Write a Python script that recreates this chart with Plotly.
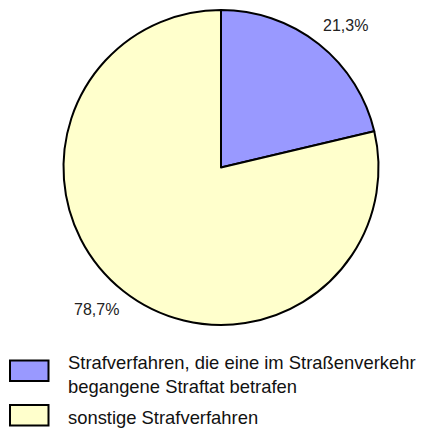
import math
import plotly.graph_objects as go

labels = ["Strafverfahren, die eine im Straßenverkehr<br>begangene Straftat betrafen", "sonstige Strafverfahren"]
values = [21.3, 78.7]
colors = ["#9999FF", "#FFFFCC"]

W, H = 422, 432
CX, CY, R = 221, 167.5, 157.5
FONT = "Liberation Sans, Arial, sans-serif"

def px(x):
    return x / W

def py(y):
    return 1 - y / H

fig = go.Figure(go.Pie(
    labels=labels, values=values, sort=False, direction="clockwise", rotation=0,
    marker=dict(colors=colors, line=dict(color="black", width=2)),
    textinfo="none", hoverinfo="label+percent", showlegend=False,
    domain=dict(x=[px(CX - R), px(CX + R)], y=[py(CY + R), py(CY - R)]),
))

# percentage labels: nearest corner of the label sits just outside the slice mid-angle
total = sum(values)
cum = 0
annotations = []
for v in values:
    mid = (cum + v / 2) / total * 2 * math.pi
    cum += v
    s, c = math.sin(mid), math.cos(mid)
    sx = 1 if s >= 0 else -1
    sy = 1 if c >= 0 else -1
    lx = CX + 1.075 * R * s - 5.5 * sx
    ly = CY - 1.075 * R * c + 1.5 * sy
    annotations.append(dict(
        x=px(lx), y=py(ly), xref="paper", yref="paper", showarrow=False,
        text=f"{v:.1f}".replace(".", ",") + "%",
        font=dict(family=FONT, size=16, color="#222"),
        xanchor="left" if sx > 0 else "right",
        yanchor="bottom" if sy > 0 else "top",
    ))

# custom legend
shapes = []
legend_box_y = [(360.5, 381), (405, 425.5)]
legend_text_y = [374, 417.5]
for (y0, y1), ty, lab, col in zip(legend_box_y, legend_text_y, labels, colors):
    shapes.append(dict(type="rect", xref="paper", yref="paper",
                       x0=px(10), x1=px(48.5), y0=py(y1), y1=py(y0),
                       fillcolor=col, line=dict(color="black", width=2)))
    annotations.append(dict(
        x=px(66), y=py(ty), xref="paper", yref="paper", showarrow=False,
        text=lab, align="left", xanchor="left", yanchor="middle",
        font=dict(family=FONT, size=18.4, color="#111"),
    ))

fig.update_layout(
    width=W, height=H, margin=dict(l=0, r=0, t=0, b=0),
    paper_bgcolor="white", plot_bgcolor="white",
    annotations=annotations, shapes=shapes,
)

fig.write_html("out.html", config={"displayModeBar": False},
               post_script="document.body.style.margin='0';document.body.style.overflow='hidden';")
